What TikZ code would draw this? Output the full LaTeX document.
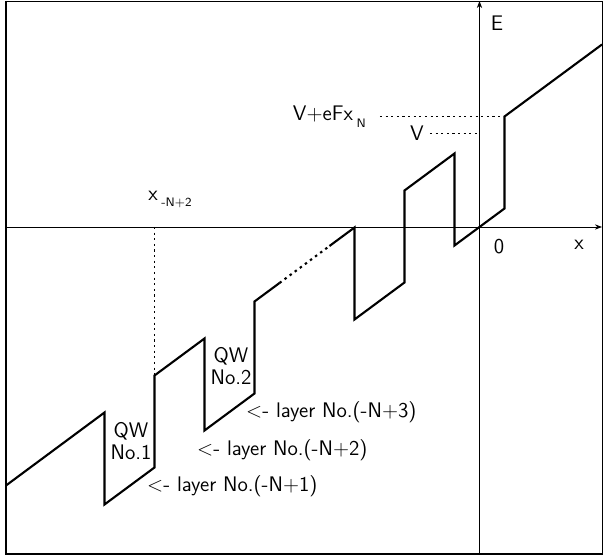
\documentclass[tikz,border=0pt]{standalone}
\usepackage{tikz}
\usetikzlibrary{positioning, calc, arrows.meta}

\tikzset{
  curve/.style={line width=1.2pt},
  gapline/.style={line width=1.2pt, dash pattern=on 1.4pt off 2.2pt},
  dotline/.style={line width=0.5pt, dash pattern=on 1.2pt off 2pt},
  axis/.style={line width=0.5pt, ->}
}

\begin{document}
\begin{tikzpicture}[>={Stealth[length=4pt,width=3pt]}, font=\fontsize{12}{13}\selectfont\sffamily]
    \useasboundingbox (-9.59,-6.66) rectangle (2.47,4.54);
    % Frame
    \draw[line width=0.5pt] (-9.47,-6.54) rectangle (2.45,4.52);
    \draw[line width=1.5pt] (-9.47,4.52) -- (-9.47,-6.54) -- (2.45,-6.54);

    % Axes
    \coordinate (O) at (0,0);
    \coordinate (xl) at (-9.47,0);
    \coordinate (xr) at (2.45,0);
    \coordinate (yb) at (0,-6.54);
    \coordinate (yt) at (0,4.52);
    \draw[axis] (xl) -- (xr);
    \draw[axis] (yb) -- (yt);
    \node (E) at (0.35,4.08) {E};
    \node (zero) at (0.39,-0.40) {0};
    \node (xaxis) at (1.99,-0.36) {x};

    % Band edge, slope 0.74, jump 1.84
    \coordinate (A0) at (-9.47,-5.17);
    \coordinate (A1) at (-7.5,-3.71);
    \coordinate (A2) at (-7.5,-5.55);
    \coordinate (A3) at (-6.5,-4.81);
    \coordinate (A4) at (-6.5,-2.97);
    \coordinate (A5) at (-5.5,-2.23);
    \coordinate (A6) at (-5.5,-4.07);
    \coordinate (A7) at (-4.5,-3.33);
    \coordinate (A8) at (-4.5,-1.49);
    \coordinate (D1) at (-4.0,-1.12);
    \coordinate (D2) at (-3.0,-0.38);
    \coordinate (A9) at (-2.5,-0.01);
    \coordinate (A10) at (-2.5,-1.85);
    \coordinate (A11) at (-1.5,-1.11);
    \coordinate (A12) at (-1.5,0.73);
    \coordinate (A13) at (-0.5,1.47);
    \coordinate (A14) at (-0.5,-0.37);
    \coordinate (A15) at (0.5,0.37);
    \coordinate (A16) at (0.5,2.21);
    \coordinate (A17) at (2.45,3.65);
    \draw[curve] (A0) -- (A1) -- (A2) -- (A3) -- (A4) -- (A5) -- (A6) -- (A7) -- (A8) -- (D1);
    \draw[gapline] (D1) -- (D2);
    \draw[curve] (D2) -- (A9) -- (A10) -- (A11) -- (A12) -- (A13) -- (A14) -- (A15) -- (A16) -- (A17);

    % Levels
    \coordinate (vf0) at (-1.99,2.21);
    \draw[dotline] (vf0) -- (A16);
    \node[left=0.16cm of vf0] (VF) {V+eFx\,\raisebox{-0.7ex}{\scriptsize N}};
    \coordinate (v0) at (-0.99,1.88);
    \coordinate (v1) at (0,1.88);
    \draw[dotline] (v0) -- (v1);
    \node[left=0pt of v0] (V) {V};

    % Position of layer
    \coordinate (xn) at (-6.5,0);
    \draw[dotline] (xn) -- (A4);
    \node (XN) at (-6.19,0.55) {x\,\raisebox{-0.7ex}{\scriptsize -N+2}};

    % Wells
    \node[align=center] (QW1) at (-6.97,-4.28) {QW\\No.1};
    \node[align=center] (QW2) at (-4.97,-2.78) {QW\\No.2};

    % Layers
    \node[anchor=west] (L1) at (-6.77,-5.18) {<- layer No.(-N+1)};
    \node[anchor=west] (L2) at (-5.77,-4.46) {<- layer No.(-N+2)};
    \node[anchor=west] (L3) at (-4.79,-3.70) {<- layer No.(-N+3)};
\end{tikzpicture}
\end{document}
